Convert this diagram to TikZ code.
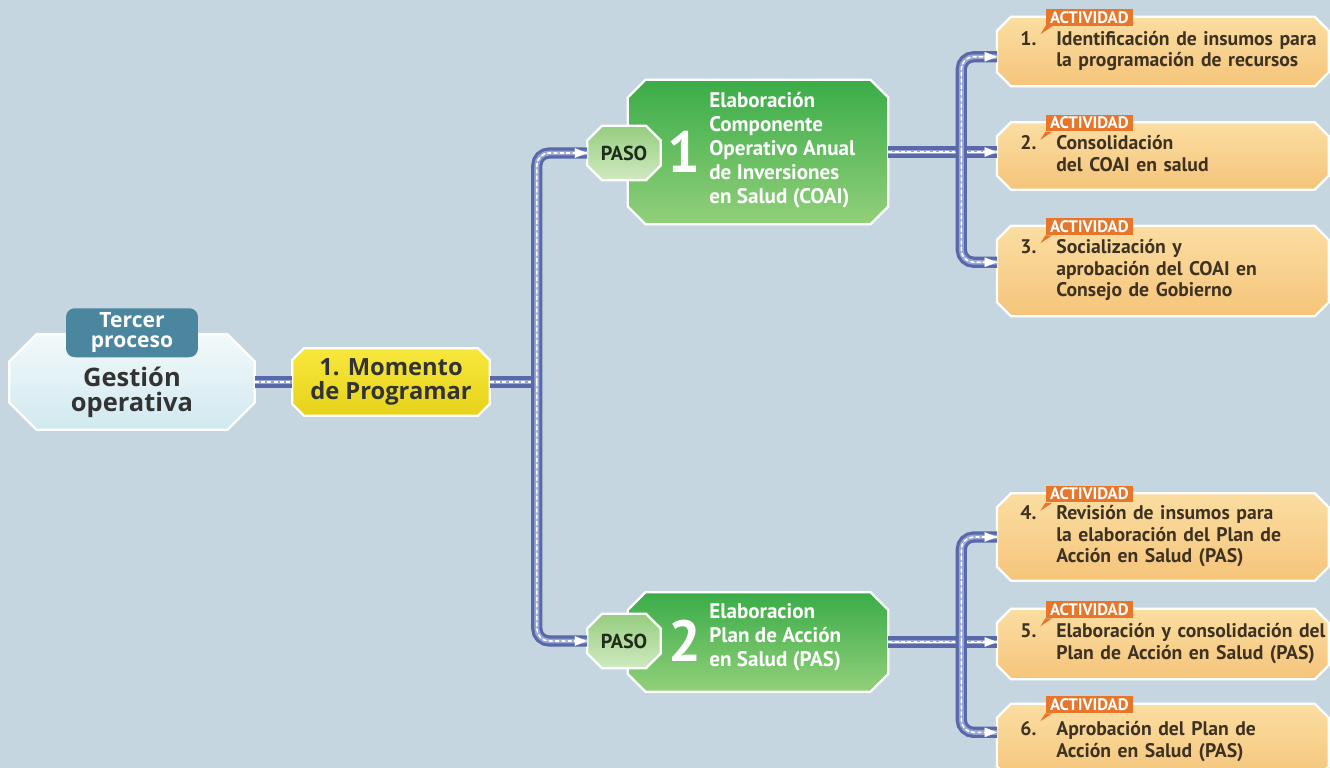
\documentclass[tikz,border=0pt]{standalone}
\usepackage{fontspec}
\setmainfont{PT Sans}
\newfontfamily\widefont{Open Sans}
\usetikzlibrary{arrows.meta,positioning,backgrounds}

\definecolor{bgblue}{RGB}{197,214,225}
\definecolor{roadblue}{RGB}{88,104,168}
\definecolor{roadlight}{RGB}{150,165,212}
\definecolor{gestA}{RGB}{242,249,250}
\definecolor{gestB}{RGB}{208,233,240}
\definecolor{tealtab}{RGB}{74,134,158}
\definecolor{momA}{RGB}{248,232,60}
\definecolor{momB}{RGB}{230,210,26}
\definecolor{greenA}{RGB}{58,172,72}
\definecolor{greenB}{RGB}{146,208,122}
\definecolor{pasoA}{RGB}{150,205,128}
\definecolor{pasoB}{RGB}{208,234,192}
\definecolor{actA}{RGB}{251,222,162}
\definecolor{actB}{RGB}{245,196,122}
\definecolor{tabor}{RGB}{232,118,42}
\definecolor{darktxt}{RGB}{51,51,51}
\definecolor{acttxt}{RGB}{62,50,34}
\definecolor{pasotxt}{RGB}{30,44,26}

% numbered activity text
\newcommand\act[2]{\begin{tabular}{@{}p{0.72cm}@{}l@{}}#1&#2\end{tabular}}
% octagon around a named node: #1 node, #2 chamfer
\newcommand\octpath[2]{([xshift=#2]#1.north west) -- ([xshift=-#2]#1.north east) -- ([yshift=-#2]#1.north east)
  -- ([yshift=#2]#1.south east) -- ([xshift=-#2]#1.south east) -- ([xshift=#2]#1.south west)
  -- ([yshift=#2]#1.south west) -- ([yshift=-#2]#1.north west) -- cycle}

\tikzset{
  octline/.style={draw=white, line width=1.3pt},
  steptxt/.style={font=\bfseries\fontsize{12}{13.6}\selectfont, text=white, align=left, inner sep=0pt, anchor=west},
  stepnum/.style={font=\bfseries\fontsize{33}{33}\selectfont, text=white, inner sep=0pt},
  pasobox/.style={minimum width=1.46cm, minimum height=1.08cm, inner sep=0pt,
    font=\bfseries\fontsize{11.5}{12}\selectfont, text=pasotxt},
  actbox/.style={anchor=west, text width=5.7cm, inner xsep=0.46cm, inner ysep=0pt, align=left,
    font=\bfseries\fontsize{11.2}{12.2}\selectfont, text=acttxt},
  acttab/.style={fill=tabor, text=white, font=\bfseries\fontsize{9.5}{9.5}\selectfont, inner xsep=2.5pt, inner ysep=1.3pt},
  road/.style={draw=roadblue, line width=6.4pt, rounded corners=7pt,
    postaction={draw=roadlight, line width=2.8pt},
    postaction={draw=white, line width=0.9pt, dash pattern=on 2.2pt off 1.4pt}},
  roadarrow/.style={road, postaction={draw=white, line width=0.1pt, -{Triangle[length=7pt,width=5.4pt]}}}
}

\begin{document}
\begin{tikzpicture}[x=0.02cm, y=-0.02cm]
    \useasboundingbox (0,0) rectangle (1330,768);

    % Process and moment
    \node[minimum width=4.9cm, minimum height=1.9cm, inner sep=0pt] (gest) at (132,382) {};
    \node[font=\widefont\bfseries\fontsize{14.5}{14.5}\selectfont, text=darktxt, align=center, inner sep=0pt] (gesttxt)
      at ([yshift=-6pt]gest.center) {Gestión\\operativa};
    \node[fill=tealtab, rounded corners=5pt, minimum width=2.64cm, minimum height=0.98cm, inner sep=0pt,
      font=\widefont\bfseries\fontsize{12}{11.5}\selectfont, text=white, align=center] (tercer) at ([yshift=0.8pt]gest.north) {Tercer\\proceso};
    \node[minimum width=3.94cm, minimum height=1.34cm, inner sep=0pt,
      font=\widefont\bfseries\fontsize{13.5}{14}\selectfont, text=darktxt, align=center] (mom) at (391,382) {1. Momento\\de Programar};

    % Step 1
    \node[minimum width=5.2cm, minimum height=2.88cm, inner sep=0pt] (g1) at (758,152) {};
    \node[stepnum] (g1num) at (684,152) {1};
    \node[steptxt] (g1txt) at (709,150) {Elaboración\\Componente\\Operativo Anual\\de Inversiones\\en Salud (COAI)};
    \node[pasobox] (p1) at (624,153) {PASO};

    % Step 2
    \node[minimum width=5.2cm, minimum height=1.98cm, inner sep=0pt] (g2) at (758,642) {};
    \node[stepnum] (g2num) at (685,641) {2};
    \node[steptxt] (g2txt) at (709,637) {Elaboracion\\Plan de Acción\\en Salud (PAS)};
    \node[pasobox] (p2) at (624,641) {PASO};

    % Activities
    \node[actbox, minimum height=1.38cm] (a1) at (997,51.5) {\act{1.}{Identificación de insumos para\\&la programación de recursos}};
    \node[actbox, minimum height=1.34cm] (a2) at (997,156) {\act{2.}{Consolidación\\&del COAI en salud}};
    \node[actbox, minimum height=1.8cm] (a3) at (997,271) {\act{3.}{Socialización y\\&aprobación del COAI en\\&Consejo de Gobierno}};
    \node[actbox, minimum height=1.74cm] (a4) at (997,537) {\act{4.}{Revisión de insumos para\\&la elaboración del Plan de\\&Acción en Salud (PAS)}};
    \node[actbox, minimum height=1.4cm] (a5) at (997,644) {\act{5.}{Elaboración y consolidación del\\&Plan de Acción en Salud (PAS)}};
    \node[actbox, minimum height=1.52cm] (a6) at (997,742) {\act{6.}{Aprobación del Plan de\\&Acción en Salud (PAS)}};

    % ACTIVIDAD tabs
    \node[acttab] (t1) at ([xshift=-1.47cm, yshift=-0.5pt]a1.north) {ACTIVIDAD};
    \node[acttab] (t2) at ([xshift=-1.47cm, yshift=-0.5pt]a2.north) {ACTIVIDAD};
    \node[acttab] (t3) at ([xshift=-1.47cm, yshift=-0.5pt]a3.north) {ACTIVIDAD};
    \node[acttab] (t4) at ([xshift=-1.47cm, yshift=-0.5pt]a4.north) {ACTIVIDAD};
    \node[acttab] (t5) at ([xshift=-1.47cm, yshift=-0.5pt]a5.north) {ACTIVIDAD};
    \node[acttab] (t6) at ([xshift=-1.47cm, yshift=-0.5pt]a6.north) {ACTIVIDAD};
    \fill[tabor] (t1.south west) -- ++(-5,8) -- ([xshift=4pt]t1.south west) -- cycle;
    \fill[tabor] (t2.south west) -- ++(-5,8) -- ([xshift=4pt]t2.south west) -- cycle;
    \fill[tabor] (t3.south west) -- ++(-5,8) -- ([xshift=4pt]t3.south west) -- cycle;
    \fill[tabor] (t4.south west) -- ++(-5,8) -- ([xshift=4pt]t4.south west) -- cycle;
    \fill[tabor] (t5.south west) -- ++(-5,8) -- ([xshift=4pt]t5.south west) -- cycle;
    \fill[tabor] (t6.south west) -- ++(-5,8) -- ([xshift=4pt]t6.south west) -- cycle;

    % Connectors
    \draw[road] (gest.east) -- (mom.west);
    \coordinate[right=0.94cm of mom.east] (j1);
    \draw[road] (mom.east) -- (j1);
    \draw[roadarrow] (j1) |- (p1.west);
    \draw[roadarrow] (j1) |- (p2.west);

    \coordinate[right=1.46cm of g1.east] (j2);
    \draw[roadarrow] (g1.east) -- (g1.east -| a2.west);
    \draw[roadarrow] (j2) |- ([yshift=-3pt]a1.west);
    \draw[roadarrow] (j2) |- ([yshift=5pt]a3.west);

    \coordinate[right=1.46cm of g2.east] (j3);
    \draw[roadarrow] (g2.east) -- (g2.east -| a5.west);
    \draw[roadarrow] (j3) |- (a4.west);
    \draw[roadarrow] (j3) |- ([yshift=5.5pt]a6.west);

    % Background and octagon boxes
    \begin{scope}[on background layer]
        \fill[bgblue] (0,0) rectangle (1330,768);
        \path[octline, top color=gestA, bottom color=gestB] \octpath{gest}{0.55cm};
        \path[octline, top color=momA, bottom color=momB] \octpath{mom}{0.24cm};
        \path[octline, top color=greenA, bottom color=greenB] \octpath{g1}{0.36cm};
        \path[octline, top color=greenA, bottom color=greenB] \octpath{g2}{0.36cm};
        \path[octline, top color=pasoA, bottom color=pasoB] \octpath{p1}{0.3cm};
        \path[octline, top color=pasoA, bottom color=pasoB] \octpath{p2}{0.3cm};
        \path[octline, top color=actA, bottom color=actB] \octpath{a1}{0.28cm};
        \path[octline, top color=actA, bottom color=actB] \octpath{a2}{0.28cm};
        \path[octline, top color=actA, bottom color=actB] \octpath{a3}{0.28cm};
        \path[octline, top color=actA, bottom color=actB] \octpath{a4}{0.28cm};
        \path[octline, top color=actA, bottom color=actB] \octpath{a5}{0.28cm};
        \path[octline, top color=actA, bottom color=actB] \octpath{a6}{0.28cm};
    \end{scope}
\end{tikzpicture}
\end{document}
